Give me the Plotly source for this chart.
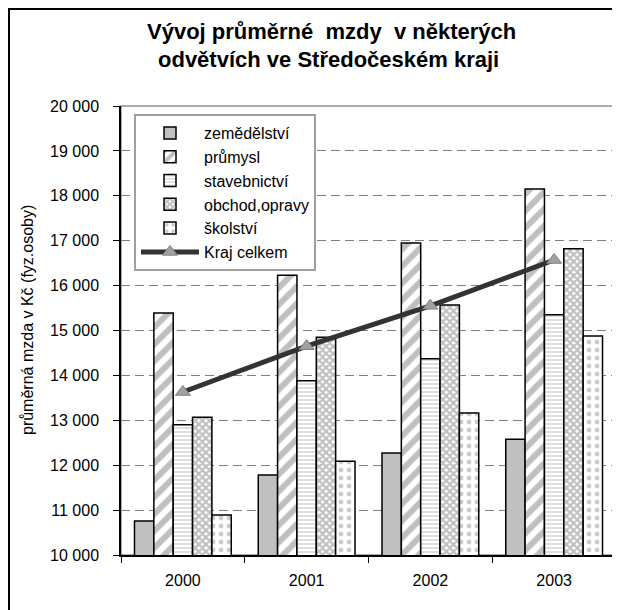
import plotly.graph_objects as go

years = ["2000", "2001", "2002", "2003"]
zemedelstvi = [10760, 11780, 12270, 12580]
prumysl = [15390, 16230, 16950, 18150]
stavebnictvi = [12900, 13880, 14370, 15350]
obchod = [13070, 14850, 15570, 16820]
skolstvi = [10890, 12090, 13160, 14880]
kraj = [13630, 14650, 15550, 16570]

FONT = "Arial, Liberation Sans, sans-serif"
OFF = 8  # page body margin
W, H = 620 - OFF, 610 - OFF
# plot area in page pixels: x 121..616, y 106..555
PL, PR, PT, PB = 121, 616, 106, 555
L = PL - OFF
R = W - (PR - OFF)
T = PT - OFF
B = H - (PB - OFF)
pw = PR - PL
ph = PB - PT


def px2x(p):
    return (p - PL) / pw


def px2y(p):
    return (PB - p) / ph


fig = go.Figure()

edge = dict(color="black", width=1.5)
fig.add_trace(go.Bar(name="zemědělství", x=years, y=zemedelstvi,
                     marker=dict(color="#c0c0c0", line=edge)))
fig.add_trace(go.Bar(name="průmysl", x=years, y=prumysl,
                     marker=dict(color="white", line=edge,
                                 pattern=dict(shape="/", fgcolor="#808080", bgcolor="white",
                                              size=12, solidity=0.5))))
fig.add_trace(go.Bar(name="stavebnictví", x=years, y=stavebnictvi,
                     marker=dict(color="white", line=edge,
                                 pattern=dict(shape="-", fgcolor="#c0c0c0", bgcolor="white",
                                              size=4, solidity=0.5))))
fig.add_trace(go.Bar(name="obchod,opravy", x=years, y=obchod,
                     marker=dict(color="white", line=edge,
                                 pattern=dict(shape="x", fgcolor="#808080", bgcolor="white",
                                              size=5, solidity=0.7))))
fig.add_trace(go.Bar(name="školství", x=years, y=skolstvi,
                     marker=dict(color="white", line=edge,
                                 pattern=dict(shape=".", fgcolor="#999999", bgcolor="white",
                                              size=8, solidity=0.3))))
fig.add_trace(go.Scatter(name="Kraj celkem", x=years, y=kraj, mode="lines+markers",
                         line=dict(color="#333333", width=5),
                         marker=dict(symbol="triangle-up", size=13, color="#a0a0a0",
                                     line=dict(color="#808080", width=1))))

fig.update_layout(
    width=W, height=H,
    margin=dict(l=L, r=R, t=T, b=B, pad=0),
    paper_bgcolor="white", plot_bgcolor="white",
    font=dict(family=FONT, size=16, color="black"),
    separators=", ",
    barmode="group", bargap=0.218, bargroupgap=0,
    showlegend=True,
    legend=dict(x=px2x(134), y=px2y(114), xanchor="left", yanchor="top",
                bgcolor="white", bordercolor="#a0a0a0", borderwidth=2,
                font=dict(family=FONT, size=16, color="black"),
                traceorder="normal", itemwidth=58, tracegroupgap=0),
    xaxis=dict(type="category", showline=True, linecolor="black", linewidth=1.5,
               ticks="outside", tickson="boundaries", ticklen=6, tickcolor="black",
               tickfont=dict(size=16), ticklabelstandoff=10, showgrid=False),
    yaxis=dict(range=[10000, 20000], dtick=1000, tickformat=",", showline=True,
               linecolor="black", linewidth=1.5, ticks="outside", ticklen=6,
               tickcolor="black", tickfont=dict(size=16), ticklabelstandoff=11,
               showgrid=True, gridcolor="#808080", griddash="9px,5px", gridwidth=1,
               zeroline=False),
)

# plot area border (grey, top & right)
fig.add_shape(type="rect", xref="paper", yref="paper", x0=0, x1=1, y0=0, y1=1,
              line=dict(color="#909090", width=1.5), layer="below")
# outer chart frame
fig.add_shape(type="rect", xref="paper", yref="paper",
              x0=px2x(9), x1=px2x(640), y0=px2y(9), y1=px2y(640),
              line=dict(color="black", width=2), layer="above")

fig.add_annotation(text="<b>Vývoj průměrné  mzdy  v některých</b>", xref="paper", yref="paper",
                   x=px2x(331), y=px2y(31), showarrow=False, xanchor="center", yanchor="middle",
                   font=dict(family=FONT, size=22))
fig.add_annotation(text="<b>odvětvích ve Středočeském kraji</b>", xref="paper", yref="paper",
                   x=px2x(328), y=px2y(59), showarrow=False, xanchor="center", yanchor="middle",
                   font=dict(family=FONT, size=22))
fig.add_annotation(text="průměrná mzda v Kč (fyz.osoby)", xref="paper", yref="paper",
                   x=px2x(27), y=px2y(320), showarrow=False, textangle=-90,
                   xanchor="center", yanchor="middle", font=dict(family=FONT, size=16))

fig.write_html("out.html")
